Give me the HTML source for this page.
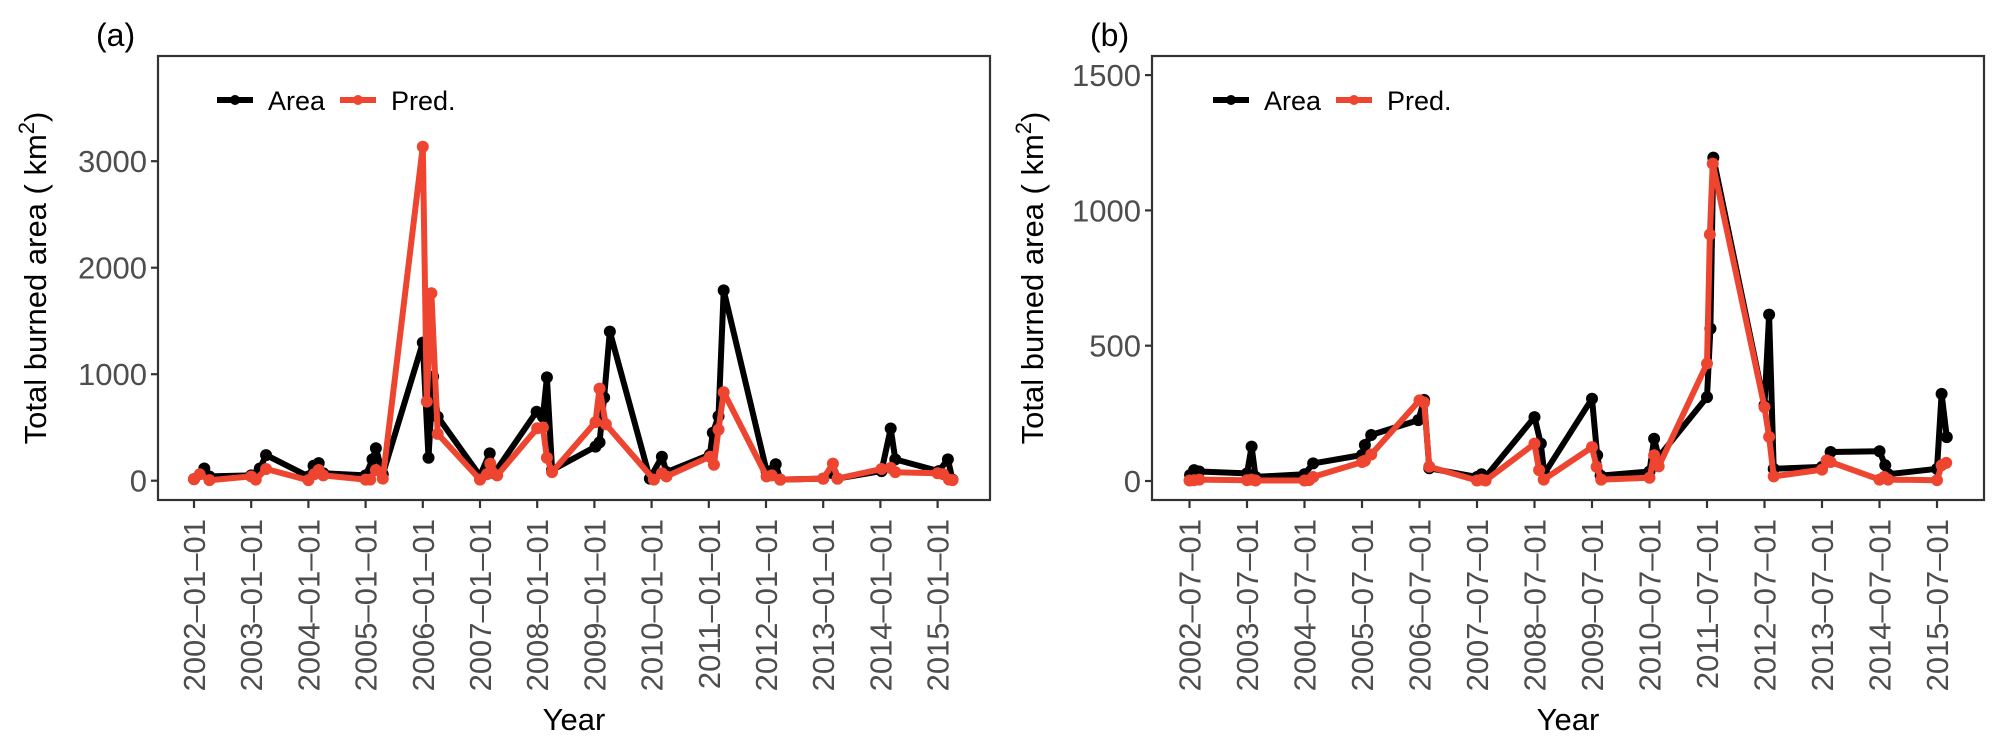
<!DOCTYPE html>
<html><head><meta charset="utf-8"><style>
html,body{margin:0;padding:0;background:#fff;}
svg{display:block;font-family:"Liberation Sans",Arial,sans-serif;}
</style></head><body>
<svg id="chart" width="2002" height="747" viewBox="0 0 2002 747" xmlns="http://www.w3.org/2000/svg"></svg>
<script>
// Panel (a) data
const aAreaT = [2002.0,2002.18,2002.27,2003.0,2003.15,2003.26,2004.0,2004.09,2004.18,2004.26,2005.0,2005.12,2005.18,2005.3,2006.0,2006.1,2006.18,2006.26,2007.0,2007.17,2007.25,2007.99,2008.1,2008.17,2008.26,2009.02,2009.09,2009.17,2009.27,2009.97,2010.18,2010.26,2011.02,2011.07,2011.17,2011.26,2012.01,2012.17,2012.25,2013.0,2013.17,2013.25,2014.02,2014.18,2014.26,2015.02,2015.18,2015.26];
const aAreaV = [15,115,40,50,115,240,40,140,165,70,50,200,305,60,1296,216,977,600,45,257,70,648,600,970,100,320,360,780,1400,20,225,80,245,450,605,1787,90,155,10,20,70,20,90,490,200,90,200,10];
const aPredT = [2002.0,2002.1,2002.27,2003.0,2003.08,2003.26,2004.0,2004.1,2004.18,2004.26,2005.0,2005.08,2005.18,2005.3,2006.0,2006.07,2006.15,2006.26,2007.0,2007.12,2007.18,2007.3,2008.0,2008.1,2008.17,2008.26,2009.02,2009.09,2009.2,2010.04,2010.18,2010.26,2011.02,2011.09,2011.17,2011.26,2012.01,2012.1,2012.25,2013.0,2013.17,2013.25,2014.02,2014.18,2014.26,2015.0,2015.1,2015.2,2015.26];
const aPredV = [15,60,5,40,10,110,5,60,100,50,10,10,100,20,3136,742,1760,440,10,60,160,50,492,500,215,80,550,865,530,10,70,40,225,150,480,830,40,50,10,20,160,20,110,120,80,70,60,10,5];
const aYTicks = [0,1000,2000,3000];
const aXTicks = ["2002-01-01","2003-01-01","2004-01-01","2005-01-01","2006-01-01","2007-01-01","2008-01-01","2009-01-01","2010-01-01","2011-01-01","2012-01-01","2013-01-01","2014-01-01","2015-01-01"];
// Panel (b) data
const bAreaT = [2002.51,2002.58,2002.67,2003.5,2003.58,2003.65,2004.5,2004.65,2005.5,2005.55,2005.66,2006.48,2006.58,2006.67,2007.5,2007.58,2007.65,2008.5,2008.61,2008.67,2009.5,2009.59,2009.65,2010.5,2010.58,2010.66,2011.5,2011.56,2011.61,2012.5,2012.58,2012.66,2013.5,2013.65,2014.5,2014.6,2014.65,2015.5,2015.58,2015.67];
const bAreaV = [22,40,35,28,127,15,25,65,96,133,170,225,300,47,15,25,15,236,138,27,304,95,20,35,156,89,310,563,1195,280,615,45,52,107,110,58,25,45,322,162];
const bPredT = [2002.5,2002.58,2002.67,2003.5,2003.58,2003.65,2004.5,2004.58,2004.65,2005.5,2005.55,2005.66,2006.5,2006.58,2006.67,2007.5,2007.58,2007.65,2008.5,2008.58,2008.66,2009.5,2009.58,2009.66,2010.5,2010.58,2010.66,2011.5,2011.55,2011.6,2012.5,2012.58,2012.66,2013.5,2013.58,2013.65,2014.5,2014.58,2014.65,2015.5,2015.58,2015.66];
const bPredV = [2,3,5,3,5,2,2,3,15,70,75,98,298,290,53,2,5,2,138,40,5,125,52,5,12,95,54,434,911,1173,273,163,17,42,76,70,5,15,5,3,58,67];
const bYTicks = [0,500,1000,1500];
const bXTicks = ["2002-07-01","2003-07-01","2004-07-01","2005-07-01","2006-07-01","2007-07-01","2008-07-01","2009-07-01","2010-07-01","2011-07-01","2012-07-01","2013-07-01","2014-07-01","2015-07-01"];

const NS = "http://www.w3.org/2000/svg";
const svg = document.getElementById('chart');
function mk(tag, attrs, parent){const e=document.createElementNS(NS,tag);for(const k in attrs)e.setAttribute(k,attrs[k]);(parent||svg).appendChild(e);return e;}

function panel(cfg){
  const g = mk('g',{});
  
  
  const xs = t => cfg.x0 + (t - cfg.t0) * cfg.pxYear;
  const ys = v => cfg.y0 - v * cfg.pxUnit;
  const border = mk('rect',{x:cfg.L,y:cfg.T,width:cfg.R-cfg.L,height:cfg.B-cfg.T,fill:'none',stroke:'#333',"stroke-width":2.2},g);
  
  
  cfg.yTicks.forEach(v=>{
    const y=ys(v);
    const tk = mk('line',{x1:cfg.L-7,x2:cfg.L,y1:y,y2:y,stroke:'#333',"stroke-width":2.2},g);
    
    
    const tl = mk('text',{x:cfg.L-11,y:y+11,"text-anchor":"end","font-size":31,fill:'#4d4d4d'},g);
    tl.textContent = v;
    
    
  });
  cfg.xTicks.forEach((lab,i)=>{
    const x=xs(cfg.t0+i);
    const tk = mk('line',{x1:x,x2:x,y1:cfg.B,y2:cfg.B+8,stroke:'#333',"stroke-width":2.2},g);
    
    
    const tl = mk('text',{x:0,y:0,"text-anchor":"end","font-size":31,fill:'#4d4d4d',transform:`translate(${x+11},${cfg.B+19}) rotate(-90)`},g);
    tl.textContent = lab.replace(/-/g,'\u2013');
    
    
  });
  const series = [[cfg.areaT,cfg.areaV,'#000000','area'],[cfg.predT,cfg.predV,'#EE4530','pred']];
  series.forEach(([T,V,col,nm])=>{
    const pts = T.map((t,i)=>xs(t).toFixed(1)+','+ys(V[i]).toFixed(1)).join(' ');
    const pl = mk('polyline',{points:pts,fill:'none',stroke:col,"stroke-width":6,"stroke-linejoin":"round","stroke-linecap":"round"},g);
    
    
    T.forEach((t,i)=>{
      const c = mk('circle',{cx:xs(t),cy:ys(V[i]),r:6,fill:col},g);
      
      
    });
  });
  const ly = cfg.T + 44;
  const lg = mk('g',{},g);
  
  
  [[cfg.legX,'#000','Area'],[cfg.legX+123,'#EE4530','Pred.']].forEach(([x,col,txt])=>{
    mk('line',{x1:x,x2:x+36,y1:ly,y2:ly,stroke:col,"stroke-width":6},lg);
    mk('circle',{cx:x+18,cy:ly,r:5,fill:col},lg);
    const t = mk('text',{x:x+51,y:ly+10,"font-size":27,fill:'#000'},lg);
    t.textContent = txt;
    
    
  });
  const pl = mk('text',{x:cfg.L-62,y:cfg.T-10,"font-size":32,fill:'#000'},g);
  pl.textContent = '(' + cfg.id + ')';
  
  
  const xt = mk('text',{x:(cfg.L+cfg.R)/2,y:730,"text-anchor":"middle","font-size":31,fill:'#000'},g);
  xt.textContent = 'Year';
  
  
  const yt = mk('text',{x:0,y:0,"text-anchor":"middle","font-size":31,fill:'#000',transform:`translate(${cfg.yTitleX},${(cfg.T+cfg.B)/2}) rotate(-90)`},g);
  yt.innerHTML = 'Total burned area ( km<tspan dy="-12" font-size="22">2</tspan><tspan dy="12">)</tspan>';
  
  
}

panel({id:'a',L:158,R:990,T:56,B:500,x0:194,t0:2002,pxYear:57.2,y0:480.7,pxUnit:0.1065,
  yTicks:aYTicks,xTicks:aXTicks,areaT:aAreaT,areaV:aAreaV,predT:aPredT,predV:aPredV,legX:217,yTitleX:46});
panel({id:'b',L:1152,R:1984,T:56,B:500,x0:1189.5,t0:2002.5,pxYear:57.5,y0:481,pxUnit:0.2706,
  yTicks:bYTicks,xTicks:bXTicks,areaT:bAreaT,areaV:bAreaV,predT:bPredT,predV:bPredV,legX:1213,yTitleX:1043});
</script>
</body></html>
